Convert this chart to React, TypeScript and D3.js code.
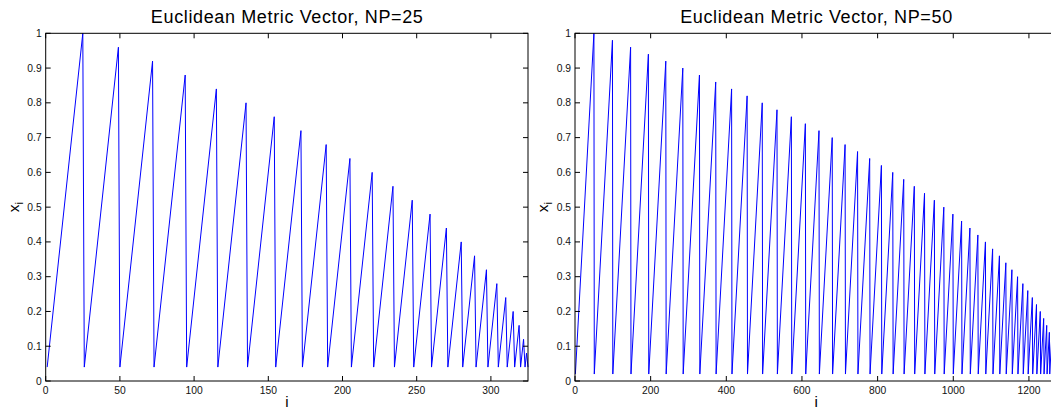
import React from "react";
import * as d3 from "d3";

// NP = 25: end index and value of every sawtooth ramp
const leftPeakX = [25, 49, 72, 94, 115, 135, 154, 172, 189, 205, 220, 234, 247, 259, 270, 280, 289, 297, 304, 310, 315, 319, 322, 324, 325];
const leftPeakY = [1, 0.96, 0.92, 0.88, 0.84, 0.8, 0.76, 0.72, 0.68, 0.64, 0.6, 0.56, 0.52, 0.48, 0.44, 0.4, 0.36, 0.32, 0.28, 0.24, 0.2, 0.16, 0.12, 0.08, 0.04];
const leftBase = 0.04;
const leftXTicks = [0, 50, 100, 150, 200, 250, 300];

// NP = 50
const rightPeakX = [50, 99, 147, 194, 240, 285, 329, 372, 414, 455, 495, 534, 572, 609, 645, 680, 714, 747, 779, 810, 840, 869, 897, 924, 950, 975, 999, 1022, 1044, 1065, 1085, 1104, 1122, 1139, 1155, 1170, 1184, 1197, 1209, 1220, 1230, 1239, 1247, 1254, 1260, 1265, 1269, 1272, 1274, 1275];
const rightPeakY = [1, 0.98, 0.96, 0.94, 0.92, 0.9, 0.88, 0.86, 0.84, 0.82, 0.8, 0.78, 0.76, 0.74, 0.72, 0.7, 0.68, 0.66, 0.64, 0.62, 0.6, 0.58, 0.56, 0.54, 0.52, 0.5, 0.48, 0.46, 0.44, 0.42, 0.4, 0.38, 0.36, 0.34, 0.32, 0.3, 0.28, 0.26, 0.24, 0.22, 0.2, 0.18, 0.16, 0.14, 0.12, 0.1, 0.08, 0.06, 0.04, 0.02];
const rightBase = 0.02;
const rightXTicks = [0, 200, 400, 600, 800, 1000, 1200];

const yTicks = [0, 0.1, 0.2, 0.3, 0.4, 0.5, 0.6, 0.7, 0.8, 0.9, 1];
const titles = ["Euclidean Metric Vector, NP=25", "Euclidean Metric Vector, NP=50"];

const FONT = "Liberation Sans, Arial, Helvetica, sans-serif";

type PanelProps = {
  peakX: number[];
  peakY: number[];
  base: number;
  xMax: number;
  xTicks: number[];
  title: string;
  left: number;
  right: number;
};

function Panel({ peakX, peakY, base, xMax, xTicks, title, left, right }: PanelProps) {
  const top = 33.3;
  const bottom = 381;
  const x = d3.scaleLinear().domain([0, xMax]).range([left, right]);
  const y = d3.scaleLinear().domain([0, 1]).range([bottom, top]);
  const pts: [number, number][] = [];
  let prev = 0;
  peakX.forEach((px, k) => {
    pts.push([prev + 1, base]);
    pts.push([px, peakY[k]]);
    prev = px;
  });
  const line = d3.line<[number, number]>().x((d) => x(d[0])).y((d) => y(d[1]));
  const tl = 5;
  const fmt = (v: number) => (v === 0 || v === 1 ? String(v) : d3.format(".1f")(v));
  const cx = (left + right) / 2;
  return (
    <g>
      <path d={line(pts) || ""} fill="none" stroke="#0000ff" strokeWidth={1} />
      <rect x={left} y={top} width={right - left} height={bottom - top} fill="none" stroke="#000" strokeWidth={1} />
      {xTicks.map((t) => (
        <g key={"x" + t}>
          <line x1={x(t)} x2={x(t)} y1={bottom} y2={bottom - tl} stroke="#000" />
          <line x1={x(t)} x2={x(t)} y1={top} y2={top + tl} stroke="#000" />
          <text x={x(t)} y={bottom + 13} textAnchor="middle" fontSize={10.3} fill="#111" fontFamily={FONT}>
            {t}
          </text>
        </g>
      ))}
      {yTicks.map((t) => (
        <g key={"y" + t}>
          <line x1={left} x2={left + tl} y1={y(t)} y2={y(t)} stroke="#000" />
          <line x1={right} x2={right - tl} y1={y(t)} y2={y(t)} stroke="#000" />
          <text x={left - 4} y={y(t) + 3.5} textAnchor="end" fontSize={10.3} fill="#111" fontFamily={FONT}>
            {fmt(t)}
          </text>
        </g>
      ))}
      <text x={cx} y={23} textAnchor="middle" fontSize={18} textLength={272} lengthAdjust="spacing" fill="#000" fontFamily={FONT}>
        {title}
      </text>
      <text x={cx} y={407} textAnchor="middle" fontSize={15} fill="#000" fontFamily={FONT}>
        i
      </text>
      <text transform={`translate(${left - 27},${(top + bottom) / 2}) rotate(-90)`} textAnchor="middle" fontSize={15.5} fill="#000" fontFamily={FONT}>
        x<tspan fontSize={11} dy={4}>i</tspan>
      </text>
    </g>
  );
}

export default function App() {
  return (
    <svg width={1051} height={410} style={{ position: "absolute", left: 0, top: 0, background: "#fff" }}>
      <rect width={1051} height={410} fill="#fff" />
      <Panel peakX={leftPeakX} peakY={leftPeakY} base={leftBase} xMax={325} xTicks={leftXTicks} title={titles[0]} left={45.7} right={528} />
      <Panel peakX={rightPeakX} peakY={rightPeakY} base={rightBase} xMax={1275} xTicks={rightXTicks} title={titles[1]} left={575} right={1057.3} />
    </svg>
  );
}
